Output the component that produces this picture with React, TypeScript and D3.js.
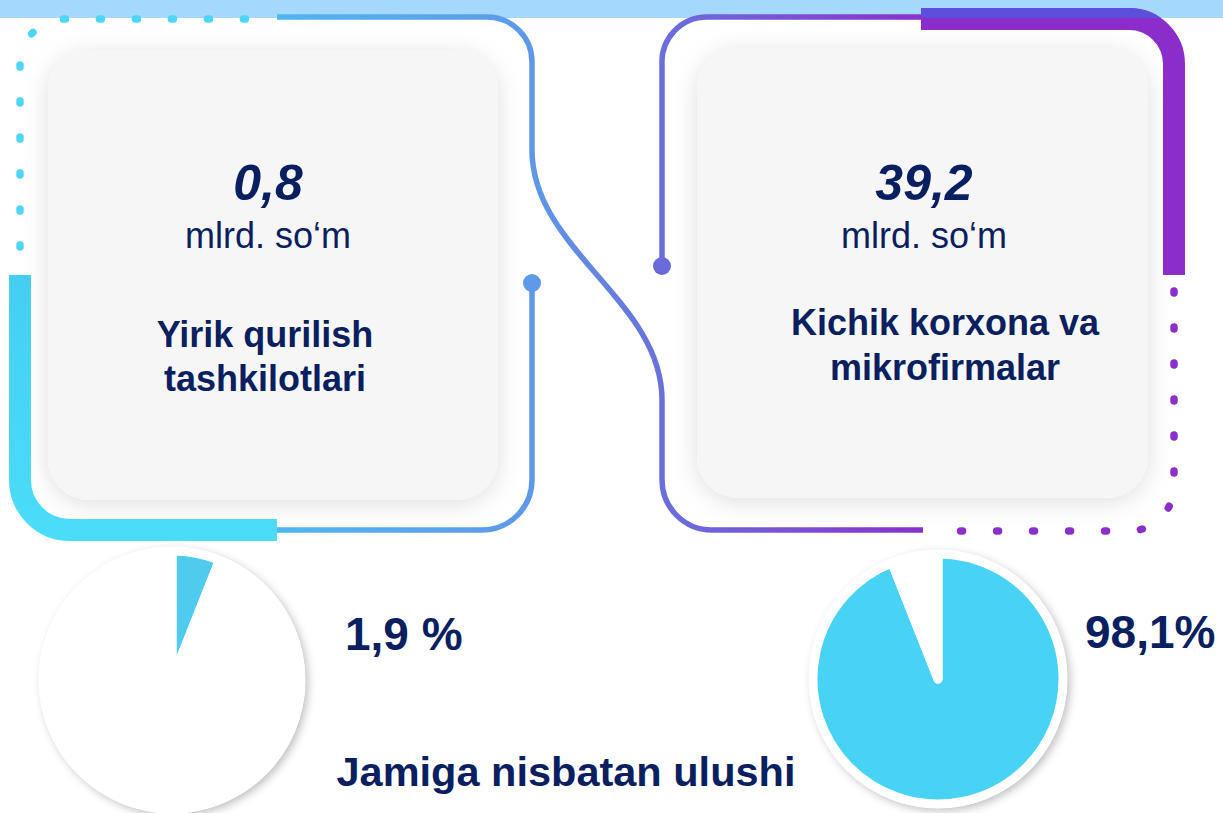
import React, { useEffect } from 'react';
import * as d3 from 'd3';

// Values shown in the two cards
const amounts = ['0,8', '39,2'];
const unitLabel = 'mlrd. so‘m';
const groupLines = [
  ['Yirik qurilish', 'tashkilotlari'],
  ['Kichik korxona va', 'mikrofirmalar'],
];

// Share labels, and the wedge sizes as they are drawn in the picture (percent)
const shareLabels = ['1,9 %', '98,1%'];
const leftWedges = [6, 94];
const rightWedges = [94, 6];
const footerLabel = 'Jamiga nisbatan ulushi';

const W = 1223;
const H = 813;
const navy = '#0a1f5f';
const cyan = '#48d3f4';
const purple = '#8a2dca';
const font = '"Liberation Sans", Arial, sans-serif';

const Pie = ({ cx, cy, r, values, colors }: { cx: number; cy: number; r: number; values: number[]; colors: string[] }) => {
  const pie = d3.pie<number>().sort(null).startAngle(0).endAngle(2 * Math.PI);
  const arc = d3.arc<d3.PieArcDatum<number>>().innerRadius(0).outerRadius(r - 4);
  const arcs = pie(values);
  return (
    <g transform={`translate(${cx},${cy})`}>
      <circle r={r} fill="#fff" filter="url(#pieShadow)" />
      {arcs.map((a, i) => (
        <path key={i} d={arc(a) || ''} fill={colors[i]} stroke="#fff" strokeWidth={9} strokeLinejoin="round" />
      ))}
    </g>
  );
};

const App = () => {
  useEffect(() => {
    document.body.style.margin = '0';
  }, []);

  return (
    <svg width={W} height={H} style={{ display: 'block', background: '#fff' }}>
      <defs>
        <filter id="cardShadow" x="-20%" y="-20%" width="140%" height="140%">
          <feDropShadow dx="0" dy="4" stdDeviation="12" floodColor="#000" floodOpacity="0.13" />
        </filter>
        <filter id="pieShadow" x="-20%" y="-20%" width="140%" height="140%">
          <feDropShadow dx="3" dy="3" stdDeviation="4" floodColor="#000" floodOpacity="0.25" />
        </filter>
        <linearGradient id="thinGrad" gradientUnits="userSpaceOnUse" x1="277" y1="0" x2="923" y2="0">
          <stop offset="0" stopColor="#4fb6f3" />
          <stop offset="0.4" stopColor="#5e98e8" />
          <stop offset="0.6" stopColor="#6b6edc" />
          <stop offset="1" stopColor="#8a30cc" />
        </linearGradient>
        <linearGradient id="cyanGrad" x1="0" y1="0" x2="0" y2="1">
          <stop offset="0" stopColor="#44cff2" />
          <stop offset="1" stopColor="#4bdcfa" />
        </linearGradient>
        <clipPath id="bandClip">
          <rect x={0} y={0} width={W} height={18} />
        </clipPath>
      </defs>

      {/* top band */}
      <rect x={0} y={0} width={W} height={18} fill="#a5d8fd" />

      {/* cards */}
      <rect x={48} y={50} width={450} height={450} rx={42} fill="#f6f6f6" filter="url(#cardShadow)" />
      <rect x={697} y={48} width={451} height={450} rx={42} fill="#f6f6f6" filter="url(#cardShadow)" />

      {/* left frame */}
      <path d="M20,247 V64 A45,45 0 0 1 65,19 H262" fill="none" stroke="#4dd6f7" strokeWidth={7.5}
        strokeLinecap="round" strokeDasharray="2 34" />
      <path d="M277,530 H70 A50,50 0 0 1 20,480 V275" fill="none" stroke="url(#cyanGrad)" strokeWidth={22} />

      {/* thin connecting lines */}
      <path d="M277,530 H482 A50,50 0 0 0 532,480 V283" fill="none" stroke="url(#thinGrad)" strokeWidth={5.5} />
      <path d="M277,17 H487 A45,45 0 0 1 532,62 V150 C532,250 662,300 662,400 V480 A50,50 0 0 0 712,530 H923"
        fill="none" stroke="url(#thinGrad)" strokeWidth={5.5} />
      <path d="M662,266 V64 A45,45 0 0 1 707,17 H921" fill="none" stroke="url(#thinGrad)" strokeWidth={5.5} />
      <circle cx={532} cy={283} r={9} fill="#5e9ae8" />
      <circle cx={662} cy={266} r={9} fill="#6a6bd9" />

      {/* right frame */}
      <path d="M921,19 H1129 A45,45 0 0 1 1174,64 V275" fill="none" stroke={purple} strokeWidth={22} />
      <path d="M921,19 H1129 A45,45 0 0 1 1174,64 V275" fill="none" stroke="#5b4fdc" strokeWidth={22}
        clipPath="url(#bandClip)" />
      <path d="M1174,291 V486 A45,45 0 0 1 1129,531 H945" fill="none" stroke="#8a2fcc" strokeWidth={7.5}
        strokeLinecap="round" strokeDasharray="2 34" />

      {/* card texts */}
      {[268, 924].map((cx, i) => (
        <g key={i} fontFamily={font} fill={navy} textAnchor="middle">
          <text x={cx} y={200} fontSize={50} fontWeight="bold" fontStyle="italic">{amounts[i]}</text>
          <text x={cx} y={248} fontSize={36}>{unitLabel}</text>
          {groupLines[i].map((line, j) => (
            <text key={j} x={i === 0 ? 265 : 945} y={(i === 0 ? 347 : 335) + j * (i === 0 ? 44 : 45)}
              fontSize={36} fontWeight="bold">{line}</text>
          ))}
        </g>
      ))}

      {/* pies */}
      <Pie cx={172} cy={680} r={133} values={leftWedges} colors={['#4fcbed', 'none']} />
      <Pie cx={938} cy={679} r={129} values={rightWedges} colors={[cyan, 'none']} />

      <g fontFamily={font} fill={navy} fontWeight="bold">
        <text x={345} y={650} fontSize={46}>{shareLabels[0]}</text>
        <text x={1085} y={648} fontSize={46}>{shareLabels[1]}</text>
        <text x={566} y={786} fontSize={41.5} textAnchor="middle">{footerLabel}</text>
      </g>
    </svg>
  );
};

export default App;
